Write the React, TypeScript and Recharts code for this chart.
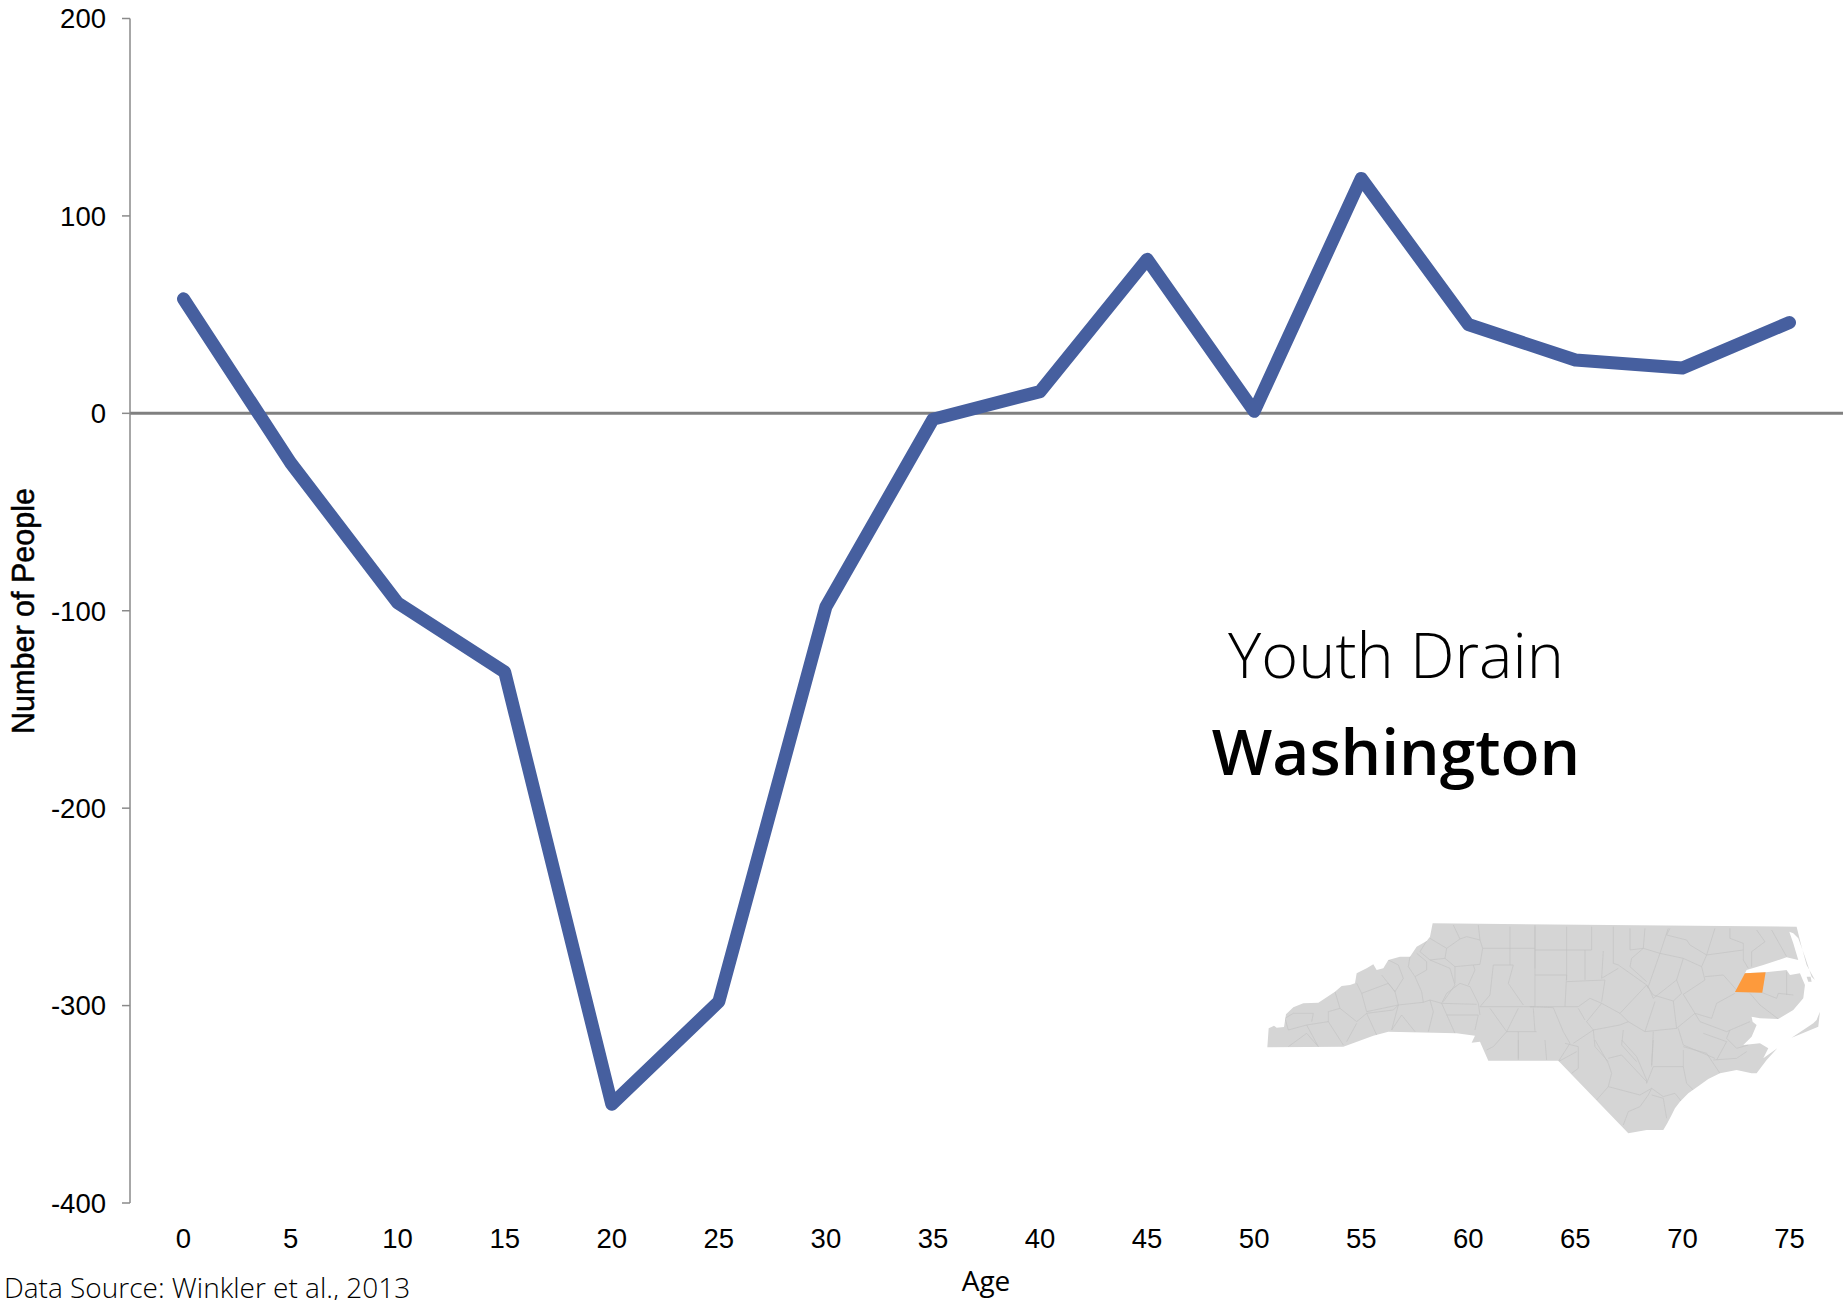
import { LineChart, Line, XAxis, YAxis, ReferenceLine } from "recharts";

const ages = ["0", "5", "10", "15", "20", "25", "30", "35", "40", "45", "50", "55", "60", "65", "70", "75"];
const people = [58, -25, -96, -131, -350, -298, -98, -3, 11, 78, 1, 119, 45, 27, 23, 46];
const yTicks = [-400, -300, -200, -100, 0, 100, 200];

const chartData = ages.map((age, i) => ({ age, people: people[i] }));

const TICK_FONT = "'Liberation Sans', Arial, sans-serif";
const TEXT_FONT = "'Open Sans', sans-serif";
const AXIS_GREY = "#8a8a8a";

// state outline, traced at 3x from the reference; drawn as decoration, not data
const stateOutline =
  "22,397 26,340 42,332 50,338 72,336 78,298 100,277 130,265 175,263 225,230 245,213 270,210 285,205 290,175 320,160 340,148 350,165 370,160 385,135 420,125 450,125 470,95 500,78 510,65 518,25 " +
  "1610,35 1625,95 1640,150 1665,195 1655,185 1635,125 1615,70 1600,55 1588,50 1600,85 1615,135 1580,127 1510,150 1460,165 1455,175 1517,172 1580,165 1590,180 1620,175 1635,210 1630,250 1600,285 1555,312 1500,310 1475,305 1478,320 1490,330 1475,365 1450,390 1500,385 1525,400 1510,430 1552,400 1520,435 1490,475 1475,475 1430,465 1380,475 1345,492 1320,510 1285,535 1260,560 1245,580 1235,600 1222,625 1210,645 1160,645 1105,655 895,437 685,437 660,380 635,383 645,362 590,355 385,350 340,362 250,395";
const outerIslands = [
  "1680,290 1675,335 1595,368 1660,325 1670,315",
  "1640,185 1652,185 1655,200 1645,200",
];
const washingtonCounty = "1455,175 1517,172 1507,233 1425,231";

const westCounties = [
  "580,30 600,72 560,100 510,70",
  "600,72 620,65 660,75 668,100 660,148 585,155 555,130 560,100",
  "660,75 655,30",
  "750,35 750,150",
  "668,100 750,100 825,100",
  "825,35 825,160",
  "500,78 480,110 510,135 555,130",
  "450,125 445,155 465,185 500,165 500,140 470,115",
  "385,135 415,150 430,190 405,230 365,180",
  "290,205 305,235 385,205 405,230 415,270 320,290 305,235",
  "225,230 240,280 205,290 205,320 140,330 85,345 75,310 100,295 160,295 155,320",
  "240,280 290,320 320,295 350,360",
  "205,320 250,390",
  "140,330 175,395 140,355 85,395",
  "290,325 260,380",
  "320,295 400,285 415,270 395,345 425,300 465,350",
  "415,270 490,262 510,255 545,265 560,235 600,205 630,215 655,265 660,300",
  "465,185 485,230 490,262",
  "510,135 570,160 585,210 550,260",
  "510,255 520,290 505,350",
  "545,265 650,268",
  "560,300 655,300 645,345",
  "545,265 585,355",
  "585,155 585,205",
  "640,150 645,165 625,210",
  "700,150 760,150 745,205 790,270",
  "700,150 690,240 660,275 790,275 825,275",
  "690,280 740,350 775,280",
  "740,350 700,395 680,405",
  "775,350 775,435",
  "740,350 830,350",
  "820,280 825,350",
];

const eastCounties = [
  "15,30 15,275",
  "110,35 110,195",
  "185,35 185,105 110,105 15,105",
  "250,35 250,145 265,150 350,210 355,220",
  "15,180 110,180 105,275 0,275 70,278 100,350 120,385",
  "110,200 225,195 215,260",
  "165,105 165,195",
  "220,108 215,190 265,160",
  "105,275 145,275 180,250 215,265 270,295 350,210 370,240 430,258 455,235 440,195 460,130 390,115 355,215 370,250 440,195",
  "215,265 170,320 190,345 270,330 295,320 270,295",
  "145,280 165,315",
  "295,320 345,350 375,260",
  "430,258 440,340 345,350",
  "300,105 340,100 390,115 415,40",
  "300,105 300,40",
  "340,100 345,40",
  "340,100 305,130 300,155 350,200",
  "460,130 515,155 525,195 510,205 460,238 495,295 545,310 560,265 615,235",
  "495,295 440,340",
  "495,295 510,320 590,350 660,320",
  "420,40 410,60 470,75 480,90 530,120 640,105",
  "530,120 515,155",
  "525,185 580,180 620,225",
  "600,40 600,70 640,85 640,135 655,160",
  "680,45 705,80 665,110 665,155",
  "725,45 770,125",
  "555,40 530,120",
  "697,233 740,250 745,235 790,240",
  "770,170 770,240",
  "660,235 690,270 745,312",
  "600,345 590,370 620,400 655,390",
  "445,340 460,390 555,430",
  "520,355 590,380 560,435",
  "370,350 365,450",
  "280,345 275,390 320,440",
  "190,345 195,395 235,440",
  "130,385 190,345",
  "120,385 85,440 140,410",
];

const southCounties = [
  "115,0 115,55",
  "195,0 200,60",
  "255,10 295,20 295,85 275,100",
  "345,0 385,70 395,100 385,140 350,180",
  "385,55 425,45 500,125",
  "425,0 470,50 500,120 500,130 520,80 610,80",
  "520,0 515,80",
  "610,30 610,80 620,130 640,150",
  "610,20 680,40 720,100",
  "385,140 480,165 515,145 505,165 480,200 445,215 430,255",
  "515,165 550,175 560,235",
  "550,170 585,160 605,185",
  "515,145 550,170",
  "700,60 770,55 800,35",
];

function CountyLines({ lines, dx, dy }: { lines: string[]; dx: number; dy: number }) {
  return (
    <g transform={`translate(${dx},${dy})`}>
      {lines.map((pts) => (
        <polyline key={pts} points={pts} fill="none" stroke="#c3c3c3" strokeWidth={2} />
      ))}
    </g>
  );
}

function StateMap() {
  return (
    <g transform="translate(1260,915) scale(0.3333)">
      <defs>
        <clipPath id="state-clip">
          <polygon points={stateOutline} />
        </clipPath>
      </defs>
      <polygon points={stateOutline} fill="#d5d5d5" />
      {outerIslands.map((pts) => (
        <polygon key={pts} points={pts} fill="#d5d5d5" />
      ))}
      <g clipPath="url(#state-clip)">
        <CountyLines lines={westCounties} dx={0} dy={0} />
        <CountyLines lines={eastCounties} dx={810} dy={0} />
        <CountyLines lines={southCounties} dx={660} dy={375} />
      </g>
      <polygon points={washingtonCounty} fill="#fd9a3c" />
    </g>
  );
}

export default function App() {
  return (
    <div style={{ position: "absolute", left: 0, top: 0, width: 1847, height: 1300, background: "#fff" }}>
      <LineChart
        width={1847}
        height={1300}
        data={chartData}
        margin={{ top: 18.5, right: 4, bottom: 0, left: 0 }}
      >
        <XAxis
          dataKey="age"
          height={97}
          axisLine={false}
          tickLine={false}
          tickMargin={19}
          interval={0}
          padding={{ left: 53.5, right: 53.5 }}
          tick={{ fontFamily: TICK_FONT, fontSize: 27.5, fill: "#000" }}
        />
        <YAxis
          width={130}
          domain={[-400, 200]}
          ticks={yTicks}
          interval={0}
          tickSize={8}
          tickMargin={16}
          axisLine={{ stroke: AXIS_GREY, strokeWidth: 1.5 }}
          tickLine={{ stroke: AXIS_GREY, strokeWidth: 1.5 }}
          tick={{ fontFamily: TICK_FONT, fontSize: 27.5, fill: "#000" }}
        />
        <ReferenceLine y={0} stroke="#808080" strokeWidth={3} />
        <Line
          type="linear"
          dataKey="people"
          stroke="#465f9f"
          strokeWidth={13}
          strokeLinecap="round"
          strokeLinejoin="round"
          dot={false}
          isAnimationActive={false}
        />
      </LineChart>
      <svg width={1847} height={1300} style={{ position: "absolute", left: 0, top: 0, pointerEvents: "none" }}>
        <StateMap />
        <text x={1396} y={678} textAnchor="middle" fontFamily={TEXT_FONT} fontWeight={300} fontSize={63} fill="#000">
          Youth Drain
        </text>
        <text x={1396} y={775} textAnchor="middle" fontFamily={TEXT_FONT} fontWeight={600} fontSize={64} fill="#000">
          Washington
        </text>
        <text x={986} y={1291} textAnchor="middle" fontFamily={TEXT_FONT} fontSize={28} fill="#000">
          Age
        </text>
        <text x={4} y={1298} fontFamily={TEXT_FONT} fontWeight={300} fontSize={28} fill="#000">
          Data Source: Winkler et al., 2013
        </text>
        <text
          transform="translate(34,611) rotate(-90)"
          textAnchor="middle"
          fontFamily={TICK_FONT}
          fontSize={30.5}
          stroke="#000"
          strokeWidth={0.5}
          fill="#000"
        >
          Number of People
        </text>
      </svg>
    </div>
  );
}
